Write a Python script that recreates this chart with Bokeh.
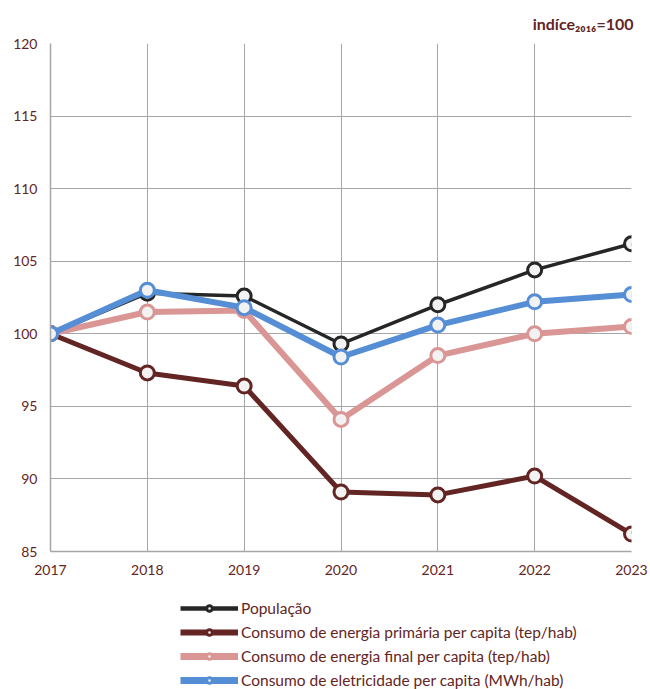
from bokeh.plotting import figure
from bokeh.models import Range1d, Legend, LegendItem, FixedTicker, Title
from bokeh.layouts import column
from bokeh.embed import file_html
from bokeh.resources import INLINE

years = [2017, 2018, 2019, 2020, 2021, 2022, 2023]
populacao = [100, 102.8, 102.6, 99.3, 102.0, 104.4, 106.2]
energia_primaria = [100, 97.3, 96.4, 89.1, 88.9, 90.2, 86.2]
energia_final = [100, 101.5, 101.6, 94.1, 98.5, 100.0, 100.5]
eletricidade = [100, 103.0, 101.8, 98.4, 100.6, 102.2, 102.7]

series_names = [
    "População",
    "Consumo de energia primária per capita (tep/hab)",
    "Consumo de energia final per capita (tep/hab)",
    "Consumo de eletricidade per capita (MWh/hab)",
]
y_ticks = [85, 90, 95, 100, 105, 110, 115, 120]
title_text = "indíce₂₀₁₆=100"

TEXT = "#632523"
FONT = "Lato"

W = 650
H1, H2 = 580, 109
ML, MR, MT, MB = 50, 19, 43, 29

p = figure(width=W, height=H1, output_backend="svg", toolbar_location=None,
           x_range=Range1d(2017, 2023), y_range=Range1d(85, 120),
           min_border_left=ML, min_border_right=MR, min_border_top=MT, min_border_bottom=MB)
p.outline_line_color = None
p.background_fill_color = "white"

for ax in (p.xaxis[0], p.yaxis[0]):
    ax.axis_line_color = "#A6A6A6"
    ax.axis_line_width = 1.5
    ax.major_tick_line_color = None
    ax.minor_tick_line_color = None
    ax.major_tick_out = 0
    ax.major_tick_in = 0
    ax.minor_tick_out = 0
    ax.minor_tick_in = 0
    ax.major_label_text_color = TEXT
    ax.major_label_text_font = FONT
    ax.major_label_text_font_size = "14px"
p.xaxis.ticker = FixedTicker(ticks=years)
p.yaxis.ticker = FixedTicker(ticks=y_ticks)
p.xaxis.major_label_standoff = 13
p.yaxis.major_label_standoff = 13

p.xgrid.ticker = FixedTicker(ticks=years)
p.ygrid.ticker = FixedTicker(ticks=y_ticks)
p.grid.grid_line_color = "#A6A6A6"
p.grid.grid_line_width = 1

colors = ["#262626", "#632523", "#D99694", "#558ED5"]
widths = [3.5, 5, 6, 6]
data = [populacao, energia_primaria, energia_final, eletricidade]

for vals, c, w in zip(data, colors, widths):
    p.line(years, vals, line_color=c, line_width=w)
    p.scatter(years, vals, size=14, marker="circle", fill_color="#F2F2F2",
              line_color=c, line_width=3)

t = Title(text=title_text, align="right", text_font=FONT, text_font_style="bold",
          text_font_size="16px", text_color=TEXT, offset=-2, standoff=22)
p.add_layout(t, "above")

# legend strip below the chart (its series lie outside its visible range)
lg = figure(width=W, height=H2, output_backend="svg", toolbar_location=None,
            x_range=Range1d(0, 1), y_range=Range1d(0, 1),
            min_border_left=ML, min_border_right=MR, min_border_top=0, min_border_bottom=0)
lg.axis.visible = False
lg.grid.visible = False
lg.outline_line_color = None

items = []
for name, vals, c, w in zip(series_names, data, colors, widths):
    lr = lg.line(years, vals, line_color=c, line_width=w + 1)
    sr = lg.scatter(years, vals, size=12, marker="circle", fill_color="#F2F2F2",
                    line_color=c, line_width=3)
    items.append(LegendItem(label=name, renderers=[lr, sr]))

legend = Legend(items=items, location=(130, 0), orientation="vertical",
                label_text_font=FONT, label_text_font_size="15.5px", label_text_color=TEXT,
                glyph_width=58, glyph_height=14, label_height=14, spacing=6,
                label_standoff=3, padding=0, margin=0,
                border_line_color=None, background_fill_alpha=0)
lg.add_layout(legend, "center")

layout = column(p, lg, spacing=0)
open("out.html", "w").write(file_html(layout, INLINE))
